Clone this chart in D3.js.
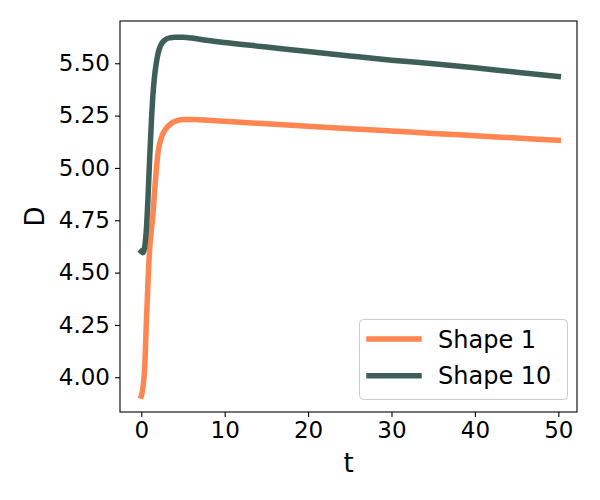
<!DOCTYPE html>
<html>
<head>
<meta charset="utf-8">
<script src="https://cdn.jsdelivr.net/npm/d3@7"></script>
<style>
  html, body { margin: 0; padding: 0; background: #fff; }
  text { font-family: "DejaVu Sans", sans-serif; fill: #000; }
</style>
</head>
<body>
<svg id="chart" width="600" height="500"></svg>
<script>
// ---- data ----
const seriesNames = ["Shape 1", "Shape 10"];
const seriesColors = ["#FF8551", "#3E5F58"];
const tValues = [0, 0.2, 0.4, 0.6, 0.8, 1.0, 1.2, 1.4, 1.6, 1.8, 2.0, 2.2, 2.5, 3.0, 3.5, 4.0, 5.0, 6.0, 7.0, 8.0, 10, 15, 20, 25, 30, 35, 40, 45, 50];
const shape1 = [3.91, 3.95, 4.04, 4.25, 4.45, 4.61, 4.70, 4.78, 4.89, 4.99, 5.07, 5.115, 5.155, 5.19, 5.21, 5.222, 5.231, 5.232, 5.230, 5.228, 5.223, 5.211, 5.199, 5.187, 5.177, 5.165, 5.154, 5.143, 5.132];
const shape10 = [4.60, 4.595, 4.62, 4.70, 4.85, 5.04, 5.21, 5.35, 5.44, 5.50, 5.545, 5.573, 5.598, 5.616, 5.622, 5.624, 5.624, 5.621, 5.615, 5.609, 5.599, 5.578, 5.556, 5.535, 5.515, 5.498, 5.479, 5.457, 5.437];
const xTicks = [0, 10, 20, 30, 40, 50];
const yTicks = [4.00, 4.25, 4.50, 4.75, 5.00, 5.25, 5.50];
const xLabel = "t";
const yLabel = "D";

// ---- layout ----
const svg = d3.select("#chart");
const mLeft = 120, mRight = 577, mTop = 21, mBottom = 412;

const x = d3.scaleLinear().domain([-2.55, 52.24]).range([mLeft, mRight]);
const y = d3.scaleLinear().domain([3.834, 5.702]).range([mBottom, mTop]);

// lines
const series = [shape1, shape10];
const line = d3.line()
  .x((d, i) => x(tValues[i]))
  .y(d => y(d))
  .curve(d3.curveMonotoneX);

series.forEach((s, k) => {
  svg.append("path")
    .datum(s)
    .attr("d", line)
    .attr("fill", "none")
    .attr("stroke", seriesColors[k])
    .attr("stroke-width", 5.5)
    .attr("stroke-linecap", "square")
    .attr("stroke-linejoin", "round");
});

// axes
const xAxis = d3.axisBottom(x).tickValues(xTicks).tickSize(5).tickPadding(5).tickFormat(d3.format("d"));
const yAxis = d3.axisLeft(y).tickValues(yTicks).tickSize(5).tickPadding(5).tickFormat(d3.format(".2f"));

const gx = svg.append("g").attr("transform", `translate(0,${mBottom})`).call(xAxis);
const gy = svg.append("g").attr("transform", `translate(${mLeft},0)`).call(yAxis);
[gx, gy].forEach(g => {
  g.select(".domain").remove();
  g.selectAll(".tick line").attr("stroke", "#000").attr("stroke-width", 1.1);
  g.selectAll(".tick text").attr("font-size", 23).attr("font-family", "DejaVu Sans").attr("fill", "#000");
});

// frame
svg.append("rect")
  .attr("x", mLeft).attr("y", mTop)
  .attr("width", mRight - mLeft).attr("height", mBottom - mTop)
  .attr("fill", "none").attr("stroke", "#000").attr("stroke-width", 1.1);

// axis labels
svg.append("text")
  .attr("x", (mLeft + mRight) / 2).attr("y", 472)
  .attr("text-anchor", "middle").attr("font-size", 26)
  .text(xLabel);
svg.append("text")
  .attr("transform", `translate(44,${(mTop + mBottom) / 2}) rotate(-90)`)
  .attr("text-anchor", "middle").attr("font-size", 26)
  .text(yLabel);

// legend
const lg = svg.append("g");
lg.append("rect")
  .attr("x", 359.5).attr("y", 319.5).attr("width", 208).attr("height", 80)
  .attr("rx", 4).attr("ry", 4)
  .attr("fill", "#fff").attr("fill-opacity", 0.8)
  .attr("stroke", "#cccccc").attr("stroke-width", 1);
seriesNames.forEach((name, k) => {
  const ly = 339 + k * 36.7;
  lg.append("line")
    .attr("x1", 369).attr("x2", 419).attr("y1", ly).attr("y2", ly)
    .attr("stroke", seriesColors[k]).attr("stroke-width", 5.5)
    .attr("stroke-linecap", "square");
  lg.append("text")
    .attr("x", 438).attr("y", ly + 8.5)
    .attr("font-size", 24)
    .text(name);
});
</script>
</body>
</html>
